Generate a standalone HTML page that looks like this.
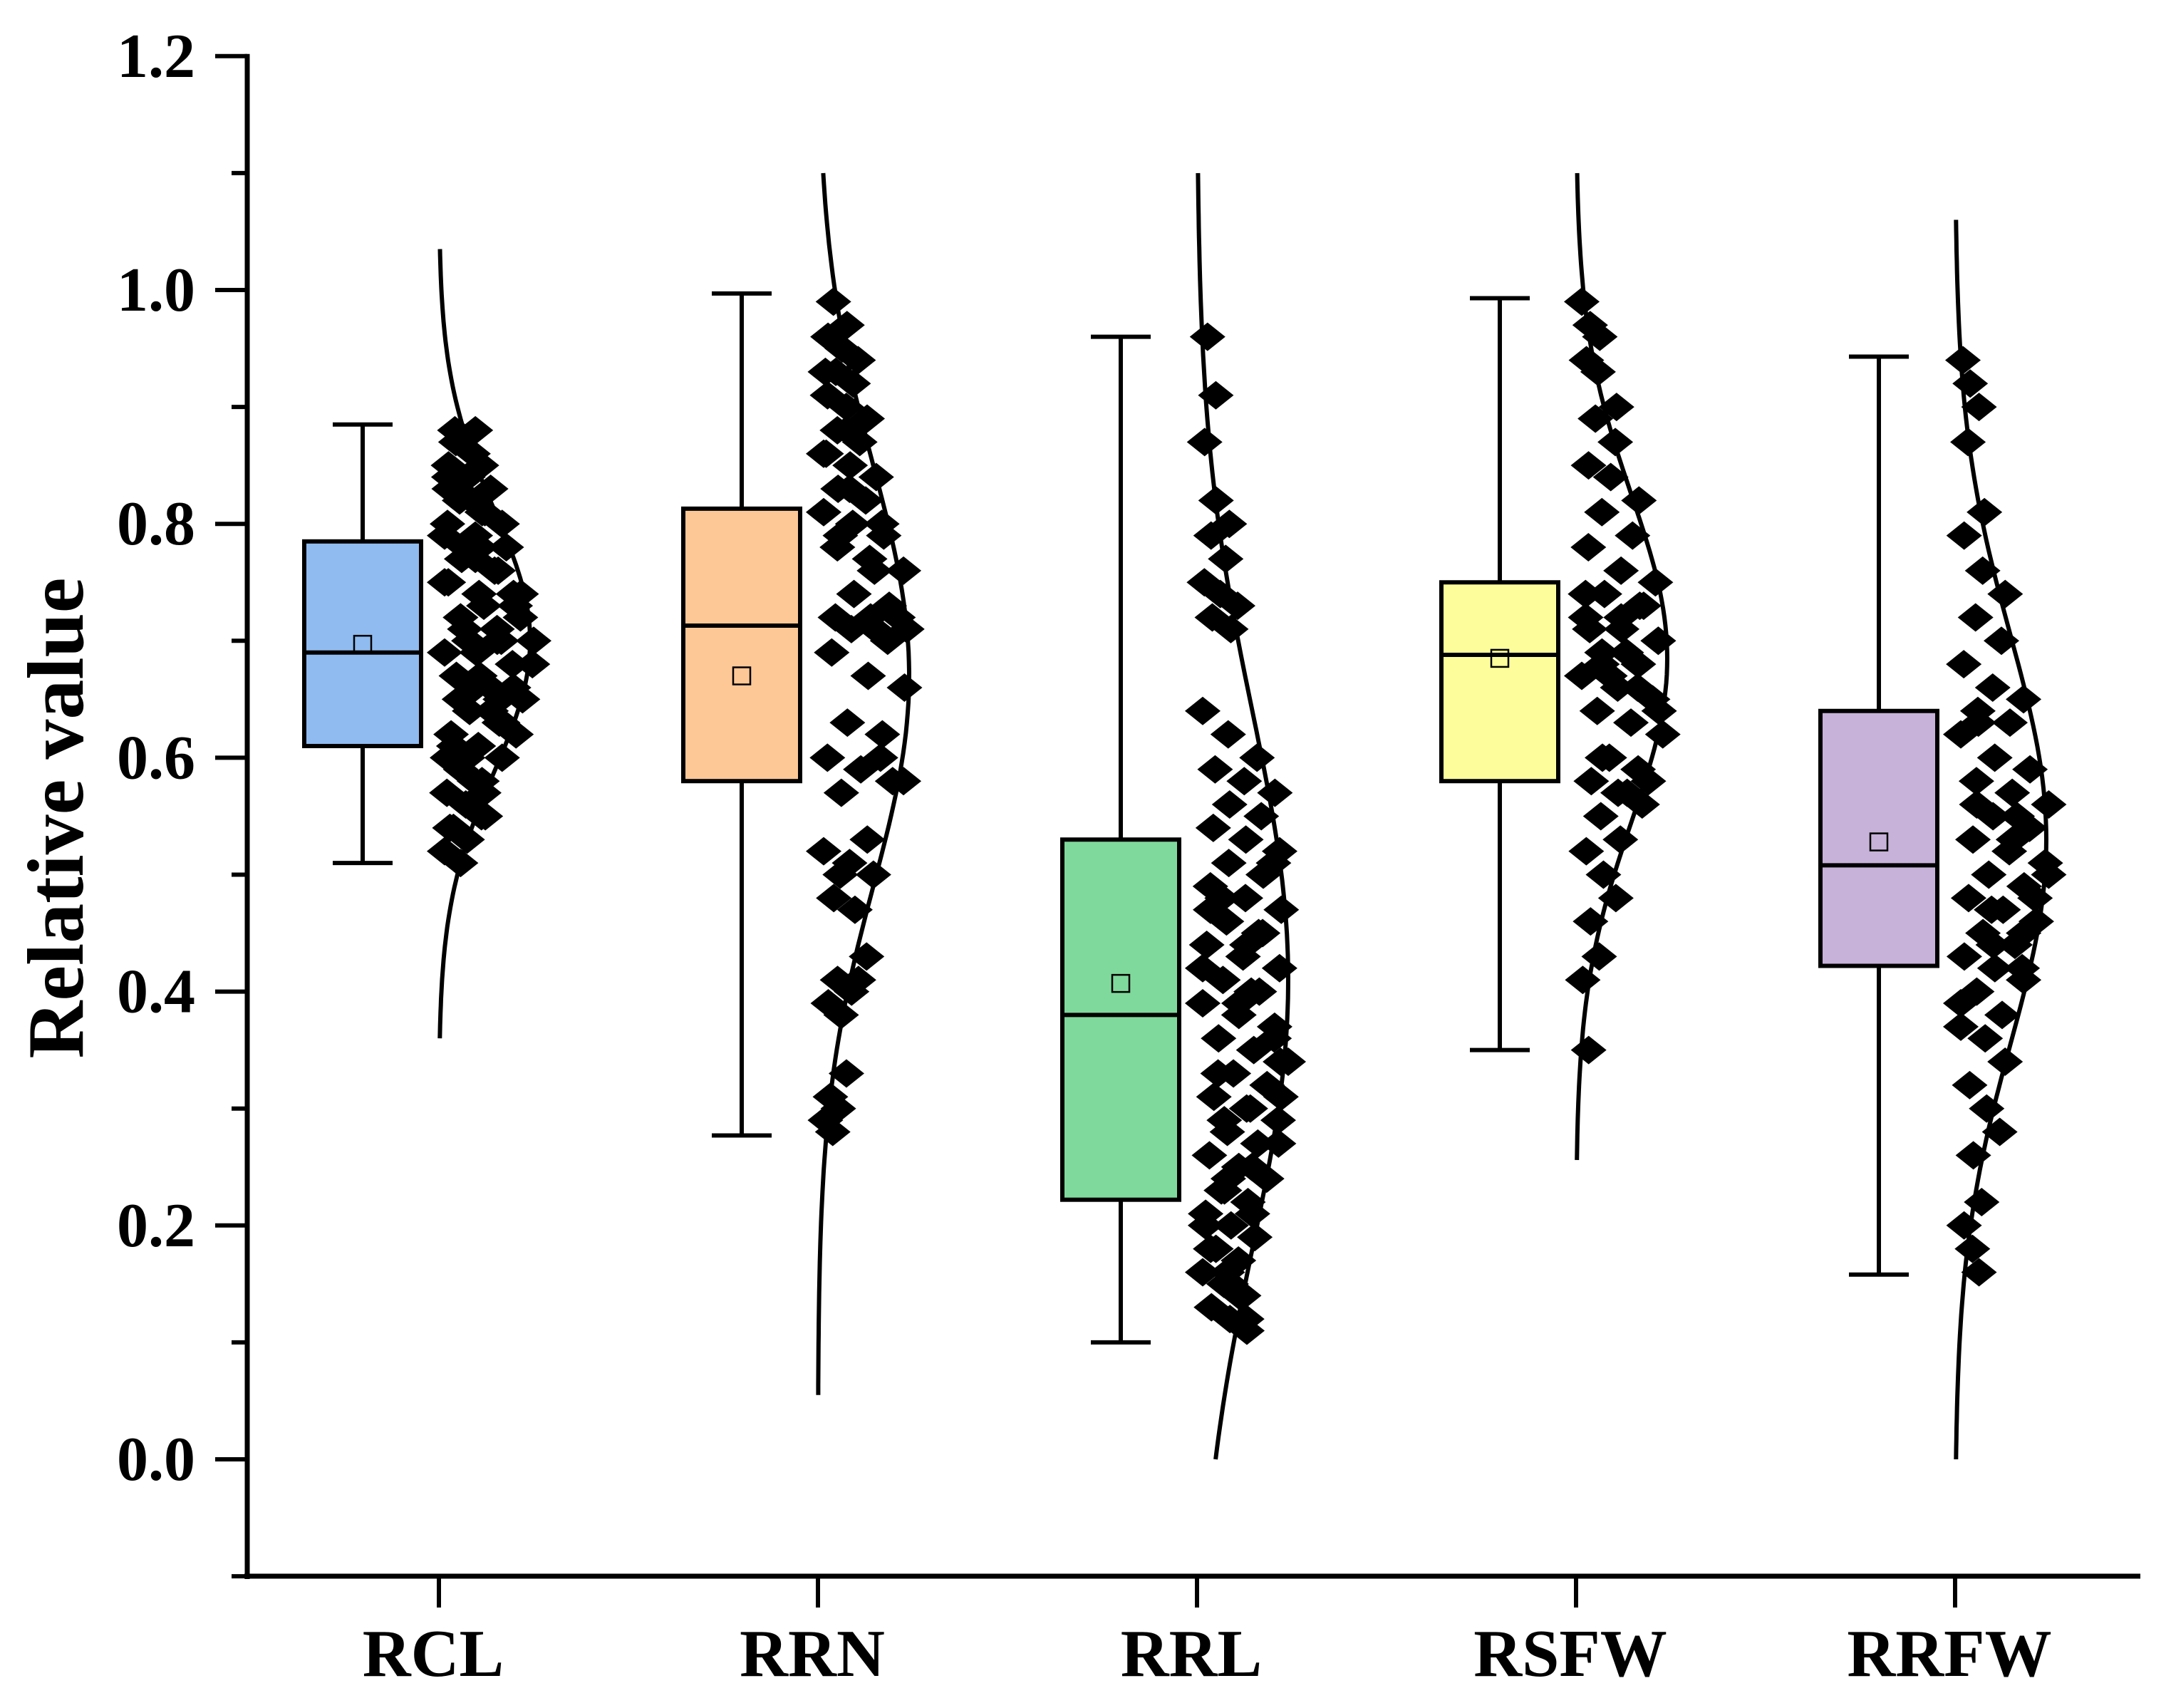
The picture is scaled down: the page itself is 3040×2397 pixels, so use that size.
<!DOCTYPE html>
<html><head><meta charset="utf-8"><style>
html,body{margin:0;padding:0;background:#fff;}
svg{display:block;}
text{font-family:"Liberation Serif",serif;font-weight:bold;fill:#000;}
</style></head><body>
<svg id="chart" width="3040" height="2397" viewBox="0 0 3040 2397" xmlns="http://www.w3.org/2000/svg">
<g id="axes"></g>
<g id="plot"></g>
<text transform="translate(116,1148) rotate(-90)" text-anchor="middle" font-size="112">Relative value</text>
</svg>
<script>
const categories = ["RCL","RRN","RRL","RSFW","RRFW"];
const colors = ["#8fbbf0","#fdc896","#80d99c","#fdfd9c","#c7b2d9"];
const whiskerLow = [0.51,0.277,0.10,0.35,0.158];
const q1 = [0.61,0.58,0.222,0.58,0.422];
const medians = [0.69,0.713,0.38,0.688,0.508];
const q3 = [0.785,0.813,0.53,0.75,0.64];
const whiskerHigh = [0.885,0.997,0.96,0.993,0.943];
const means = [0.697,0.67,0.407,0.685,0.528];
const curveMean = [0.70,0.67,0.41,0.685,0.53];
const curveSd = [0.112,0.18,0.23,0.14,0.175];
const curveLow = [0.36,0.055,0.0,0.256,0.0];
const curveHigh = [1.035,1.1,1.1,1.1,1.06];
const yTicks = [0.0,0.2,0.4,0.6,0.8,1.0,1.2];
const yMinor = [-0.1,0.1,0.3,0.5,0.7,0.9,1.1];
const pts0 = [0.52,0.53,0.54,0.55,0.56,0.57,0.58,0.59,0.60,0.61,0.62,0.63,0.64,0.65,0.66,0.67,0.68,0.69,0.70,0.71,0.72,0.73,0.74,0.75,0.76,0.77,0.78,0.79,0.80,0.81,0.82,0.83,0.84,0.85,0.86,0.87,0.88,0.51,0.54,0.57,0.60,0.62,0.64,0.65,0.66,0.67,0.69,0.70,0.71,0.72,0.73,0.75,0.76,0.78,0.80,0.82,0.84,0.86,0.88,0.55,0.58,0.61,0.63,0.66,0.68,0.70,0.72,0.74,0.77,0.79,0.81,0.83,0.85,0.87,0.60,0.65,0.70,0.74,0.78,0.83];
const pts1 = [0.28,0.29,0.30,0.31,0.33,0.38,0.39,0.40,0.41,0.43,0.47,0.48,0.50,0.51,0.52,0.53,0.57,0.58,0.59,0.60,0.62,0.63,0.66,0.67,0.69,0.70,0.71,0.71,0.72,0.72,0.73,0.74,0.76,0.77,0.78,0.79,0.80,0.81,0.82,0.83,0.84,0.85,0.86,0.87,0.88,0.89,0.90,0.91,0.92,0.93,0.94,0.95,0.96,0.97,0.99,0.58,0.71,0.78,0.80,0.83,0.86,0.76,0.79,0.72,0.88,0.93,0.60,0.50,0.41];
const pts2 = [0.11,0.12,0.13,0.14,0.15,0.16,0.17,0.18,0.19,0.20,0.21,0.22,0.23,0.24,0.25,0.26,0.27,0.28,0.29,0.30,0.31,0.32,0.33,0.34,0.35,0.36,0.37,0.38,0.39,0.40,0.41,0.42,0.43,0.44,0.45,0.46,0.47,0.48,0.49,0.50,0.51,0.52,0.53,0.54,0.55,0.56,0.57,0.58,0.59,0.60,0.62,0.64,0.71,0.72,0.73,0.74,0.75,0.77,0.79,0.80,0.82,0.87,0.91,0.96,0.12,0.15,0.18,0.21,0.24,0.27,0.30,0.33,0.36,0.39,0.42,0.45,0.48,0.51,0.16,0.20,0.25,0.29,0.34,0.44,0.47,0.14,0.23,0.31,0.40];
const pts3 = [0.35,0.41,0.43,0.46,0.48,0.50,0.52,0.53,0.55,0.56,0.57,0.58,0.59,0.60,0.62,0.63,0.64,0.65,0.66,0.67,0.68,0.69,0.70,0.71,0.72,0.73,0.74,0.75,0.76,0.78,0.79,0.81,0.82,0.84,0.85,0.87,0.89,0.90,0.93,0.94,0.96,0.97,0.99,0.66,0.68,0.70,0.72,0.74,0.57,0.60,0.64,0.69,0.71,0.73,0.67,0.58];
const pts4 = [0.16,0.18,0.20,0.22,0.26,0.28,0.30,0.32,0.34,0.36,0.37,0.38,0.40,0.41,0.42,0.43,0.44,0.45,0.46,0.47,0.48,0.49,0.50,0.51,0.52,0.53,0.54,0.55,0.56,0.57,0.58,0.59,0.60,0.62,0.63,0.64,0.65,0.66,0.68,0.70,0.72,0.74,0.76,0.79,0.81,0.87,0.90,0.92,0.94,0.45,0.47,0.50,0.53,0.56,0.42,0.44,0.39,0.55,0.63,0.48];
const points = [pts0,pts1,pts2,pts3,pts4];

const NS="http://www.w3.org/2000/svg";
const X0=347, X1=3004, Y0=2212;
function yS(v){return 2048 - v*1641;}
function xCat(i){return 616 + i*532;}
function mk(tag,attrs,parent){const e=document.createElementNS(NS,tag);for(const k in attrs)e.setAttribute(k,attrs[k]);parent.appendChild(e);return e;}
const axes=document.getElementById('axes'), plot=document.getElementById('plot');

let e=mk('line',{x1:X0,y1:yS(1.2)-3,x2:X0,y2:Y0+4,stroke:'#000','stroke-width':7},axes);


e=mk('line',{x1:X0-4,y1:Y0,x2:X1,y2:Y0,stroke:'#000','stroke-width':7},axes);


yTicks.forEach(v=>{
  const t=mk('line',{x1:X0-45,y1:yS(v),x2:X0,y2:yS(v),stroke:'#000','stroke-width':6},axes);
  
  
  const l=mk('text',{x:274,y:yS(v)+29,'text-anchor':'end','font-size':88},axes);
  l.textContent=v.toFixed(1);
  
  
});
yMinor.forEach(v=>{
  const t=mk('line',{x1:X0-22,y1:yS(v),x2:X0,y2:yS(v),stroke:'#000','stroke-width':6},axes);
  
  
});
categories.forEach((c,i)=>{
  const t=mk('line',{x1:xCat(i),y1:Y0,x2:xCat(i),y2:Y0+44,stroke:'#000','stroke-width':6},axes);
  
  
  const l=mk('text',{x:xCat(i)-8,y:2352,'text-anchor':'middle','font-size':94},axes);
  l.textContent=c;
  
  
});

function pdfW(i,v){const z=(v-curveMean[i])/curveSd[i];return Math.exp(-0.5*z*z);}
categories.forEach((c,i)=>{
  const bx=xCat(i)-107, hw=82, cap=42;
  const g=mk('g',{},plot);
  
  
  let w=mk('line',{x1:bx,y1:yS(whiskerLow[i]),x2:bx,y2:yS(q1[i]),stroke:'#000','stroke-width':6},g);
  
  
  w=mk('line',{x1:bx,y1:yS(q3[i]),x2:bx,y2:yS(whiskerHigh[i]),stroke:'#000','stroke-width':6},g);
  
  
  [whiskerLow[i],whiskerHigh[i]].forEach(v=>{
    const cp=mk('line',{x1:bx-cap,y1:yS(v),x2:bx+cap,y2:yS(v),stroke:'#000','stroke-width':6},g);
    
    
  });
  const b=mk('rect',{x:bx-hw,y:yS(q3[i]),width:2*hw,height:yS(q1[i])-yS(q3[i]),fill:colors[i],stroke:'#000','stroke-width':6},g);
  
  
  const m=mk('line',{x1:bx-hw,y1:yS(medians[i]),x2:bx+hw,y2:yS(medians[i]),stroke:'#000','stroke-width':6},g);
  
  
  const mn=mk('rect',{x:bx-12,y:yS(means[i])-12,width:24,height:24,fill:'none',stroke:'#000','stroke-width':2.5},g);
  
  
  const cx=xCat(i);
  points[i].forEach((v,k)=>{
    const frac=((k*37+i*11)%23)/22;
    const wd=pdfW(i,v)*110+15;
    const px=cx+8+frac*wd, py=yS(v);
    const d=mk('path',{d:`M${px-25},${py} L${px},${py-20} L${px+25},${py} L${px},${py+20} Z`,fill:'#000'},g);
    
    
  });
  let dStr='';
  const n=120;
  for(let s=0;s<=n;s++){
    const v=curveLow[i]+(curveHigh[i]-curveLow[i])*s/n;
    const x=cx+pdfW(i,v)*128;
    dStr+=(s?'L':'M')+x.toFixed(1)+','+yS(v).toFixed(1);
  }
  const cv=mk('path',{d:dStr,fill:'none',stroke:'#000','stroke-width':6},g);
  
  
});
</script>
</body></html>
